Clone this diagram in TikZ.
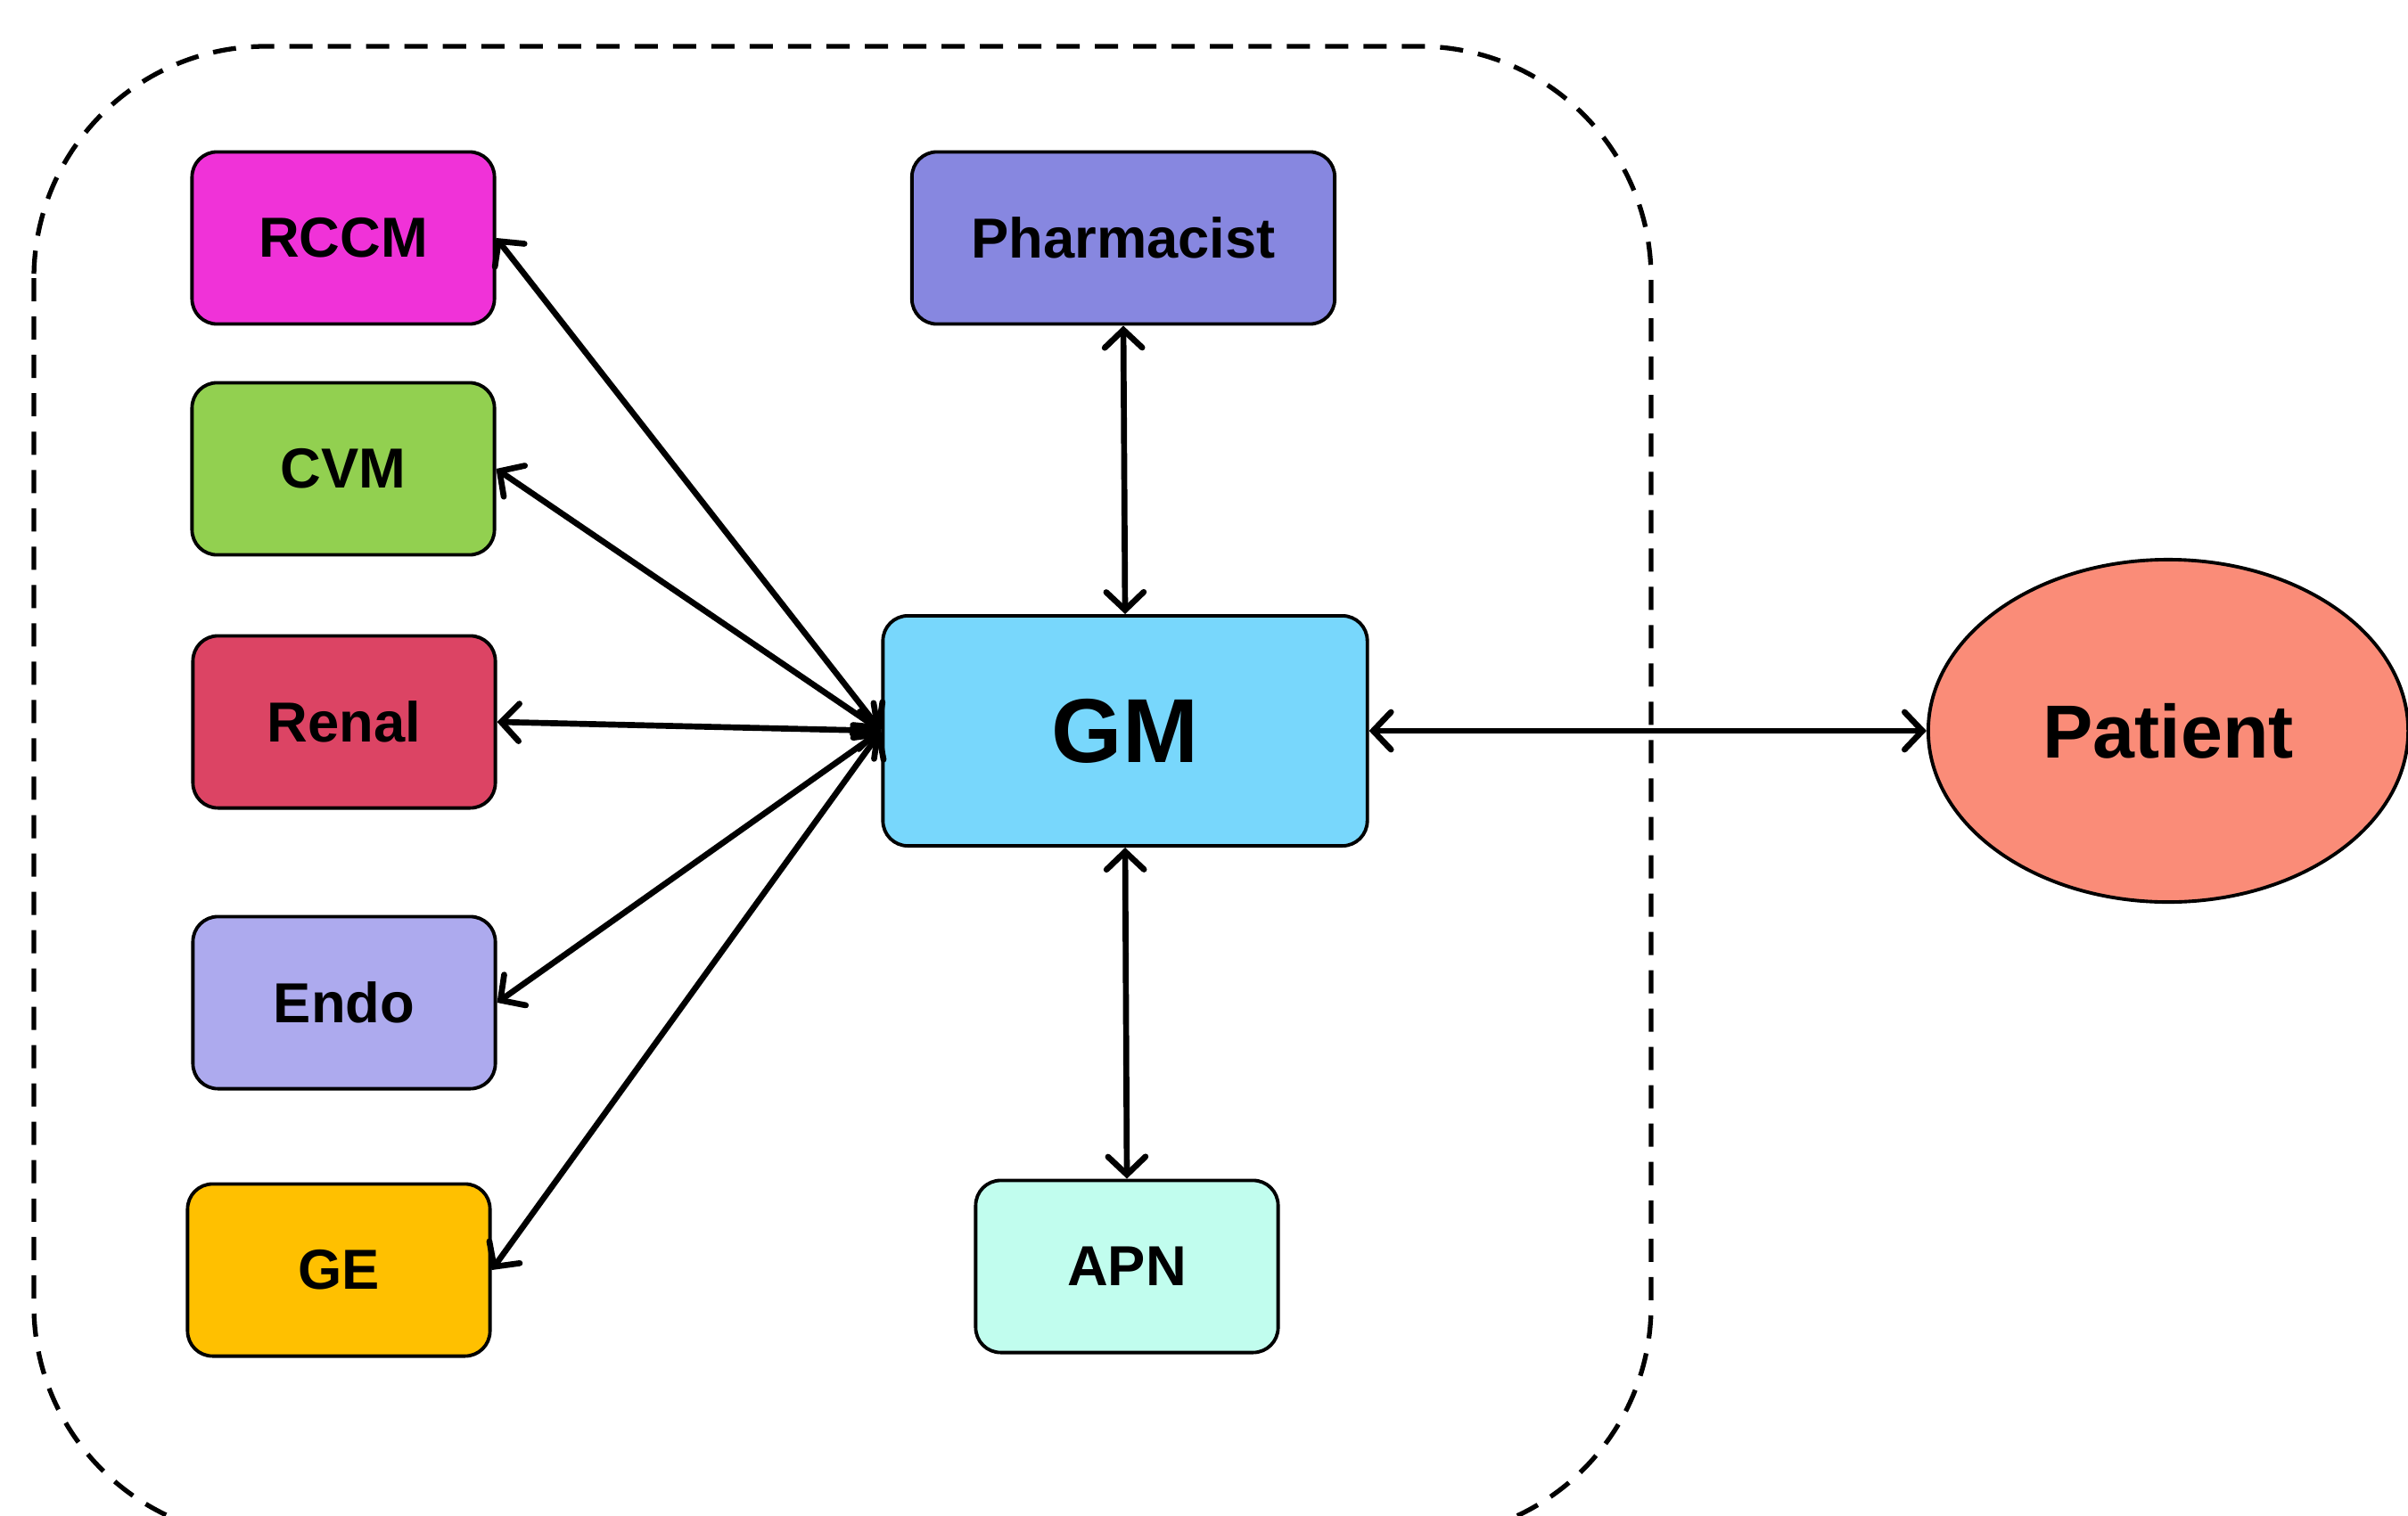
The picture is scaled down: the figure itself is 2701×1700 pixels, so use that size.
\documentclass[tikz,border=0pt]{standalone}
\usepackage{fontspec}
\setmainfont{Liberation Sans}
\usepackage{xcolor}
\usepackage{tikz}
\usetikzlibrary{arrows.meta}
\usetikzlibrary{shapes.geometric}
\definecolor{rccmcol}{RGB}{240,50,216}
\definecolor{cvmcol}{RGB}{146,208,80}
\definecolor{renalcol}{RGB}{220,68,100}
\definecolor{endocol}{RGB}{173,170,238}
\definecolor{gecol}{RGB}{255,192,0}
\definecolor{pharmcol}{RGB}{135,135,224}
\definecolor{gmcol}{RGB}{120,215,252}
\definecolor{apncol}{RGB}{193,253,238}
\definecolor{patientcol}{RGB}{250,140,120}
\tikzstyle{unitbox} = [draw=black, line width=1.1pt, rectangle, rounded corners=0.28cm,
minimum width=3.39cm, minimum height=1.93cm, inner sep=0pt, font=\fontsize{18}{22}\selectfont\bfseries]
\tikzstyle{link} = [line width=1.9pt, line cap=round,
{Straight Barb[length=0.2cm,width=0.42cm,line cap=round]}-{Straight Barb[length=0.2cm,width=0.42cm,line cap=round]}]

\begin{document}
\begin{tikzpicture}[x=0.01cm, y=-0.01cm]
        \useasboundingbox (0,0) rectangle (2701,1700);
        % team boundary
        \draw[line width=1.5pt, dash pattern=on 0.26cm off 0.17cm, rounded corners=2.6cm] (38,52) rectangle (1852,1725);
        % specialists
        \node [unitbox, fill=rccmcol] (rccm) at (385,267) {RCCM};
        \node [unitbox, fill=cvmcol] (cvm) at (385,526) {CVM};
        \node [unitbox, fill=renalcol] (renal) at (386,810) {Renal};
        \node [unitbox, fill=endocol] (endo) at (386,1125) {Endo};
        \node [unitbox, fill=gecol] (ge) at (380,1425) {GE};
        \node [unitbox, fill=pharmcol, minimum width=4.74cm] (pharm) at (1260,267) {Pharmacist};
        \node [unitbox, fill=apncol] (apn) at (1264,1421) {APN};
        \node [unitbox, fill=gmcol, minimum width=5.43cm, minimum height=2.58cm,
            font=\fontsize{29}{34}\selectfont\bfseries] (gm) at (1262,820) {GM};
        \node [draw=black, line width=1.1pt, ellipse, fill=patientcol, inner sep=0pt,
            minimum width=5.38cm, minimum height=3.84cm,
            font=\fontsize{24}{29}\selectfont\bfseries] (patient) at (2432,820) {Patient};
        % links
        \draw[link] (gm.west) -- (rccm.east);
        \draw[link] (gm.west) -- (cvm.east);
        \draw[link] (gm.west) -- (renal.east);
        \draw[link] (gm.west) -- (endo.east);
        \draw[link] (gm.west) -- (ge.east);
        \draw[link] (gm.north) -- (pharm.south);
        \draw[link] (gm.south) -- (apn.north);
        \draw[link] (gm.east) -- (patient.west);
    \end{tikzpicture}
\end{document}
